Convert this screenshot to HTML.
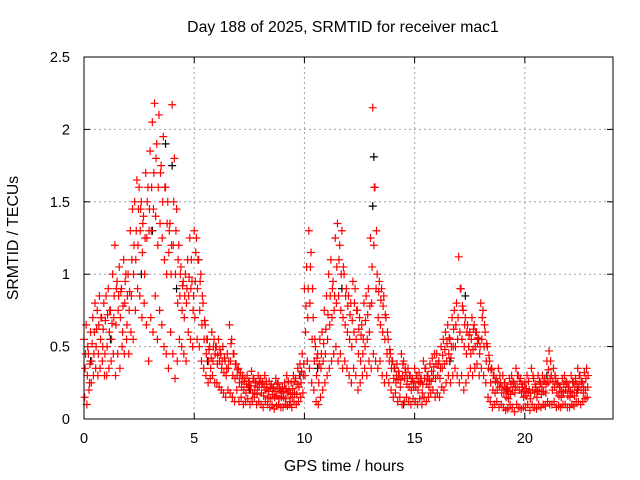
<!DOCTYPE html>
<html><head><meta charset="utf-8"><style>
body{margin:0;background:#fff}
svg{display:block;font-family:"Liberation Sans",sans-serif}
</style></head><body>
<svg id="chart" width="640" height="480" viewBox="0 0 640 480">
<rect width="640" height="480" fill="#fff"/>
<text x="343" y="32" font-size="15.8" text-anchor="middle">Day 188 of 2025, SRMTID for receiver mac1</text>
<text x="344" y="471" font-size="15.8" text-anchor="middle">GPS time / hours</text>
<text transform="translate(18,238) rotate(-90)" font-size="15.8" text-anchor="middle">SRMTID / TECUs</text>
<g id="grid"></g><g id="ticks"></g><g id="black"></g><g id="red"></g>
<rect x="84" y="57" width="529" height="362" fill="none" stroke="#000" stroke-width="1"/>
</svg>
<script>
const xTicks=[0,5,10,15,20];
const yTicks=[0,0.5,1,1.5,2,2.5];
const yTickLabels=["0","0.5","1","1.5","2","2.5"];
const hours=[0,0.1,0.2,0.3,0.4,0.5,0.6,0.7,0.8,0.9,1,1.1,1.2,1.3,1.4,1.5,1.6,1.7,1.8,1.9,2,2.1,2.2,2.3,2.4,2.5,2.6,2.7,2.8,2.9,3,3.1,3.2,3.3,3.4,3.5,3.6,3.7,3.8,3.9,4,4.1,4.2,4.3,4.4,4.5,4.6,4.7,4.8,4.9,5,5.1,5.2,5.3,5.4,5.5,5.6,5.7,5.8,5.9,6,6.1,6.2,6.3,6.4,6.5,6.6,6.7,6.8,6.9,7,7.1,7.2,7.3,7.4,7.5,7.6,7.7,7.8,7.9,8,8.1,8.2,8.3,8.4,8.5,8.6,8.7,8.8,8.9,9,9.1,9.2,9.3,9.4,9.5,9.6,9.7,9.8,9.9,10,10.1,10.2,10.3,10.4,10.5,10.6,10.7,10.8,10.9,11,11.1,11.2,11.3,11.4,11.5,11.6,11.7,11.8,11.9,12,12.1,12.2,12.3,12.4,12.5,12.6,12.7,12.8,12.9,13,13.1,13.2,13.3,13.4,13.5,13.6,13.7,13.8,13.9,14,14.1,14.2,14.3,14.4,14.5,14.6,14.7,14.8,14.9,15,15.1,15.2,15.3,15.4,15.5,15.6,15.7,15.8,15.9,16,16.1,16.2,16.3,16.4,16.5,16.6,16.7,16.8,16.9,17,17.1,17.2,17.3,17.4,17.5,17.6,17.7,17.8,17.9,18,18.1,18.2,18.3,18.4,18.5,18.6,18.7,18.8,18.9,19,19.1,19.2,19.3,19.4,19.5,19.6,19.7,19.8,19.9,20,20.1,20.2,20.3,20.4,20.5,20.6,20.7,20.8,20.9,21,21.1,21.2,21.3,21.4,21.5,21.6,21.7,21.8,21.9,22,22.1,22.2,22.3,22.4,22.5,22.6,22.7,22.8];
const highVals=[.55,.65,.45,.60,.70,.80,.75,.85,.70,.80, .85,.90,.75,1.0,1.2,.95,1.05,.90,1.1,1.0, 1.0,1.3,1.45,1.5,1.65,1.6,1.5,1.4,1.7,1.6, 1.85,2.05,2.18,1.9,2.1,1.75,1.95,1.6,1.5,1.35, 2.17,1.8,1.45,1.2,1.05,.95,1.0,1.1,1.25,.95, 1.3,1.25,1.1,1.0,.80,.65,.55,.50,.60,.55, .50,.55,.45,.50,.40,.45,.65,.55,.45,.38, .35,.32,.30,.28,.30,.26,.33,.28,.25,.30, .28,.25,.30,.22,.26,.24,.22,.28,.25,.20, .22,.25,.30,.20,.25,.30,.28,.35,.38,.45, .90,1.05,1.3,1.15,.70,.50,.45,.55,.60,.75, .85,1.0,1.1,.95,1.25,1.35,1.2,1.3,1.0,.90, .85,.80,.95,.90,.75,.70,.65,.80,.85,.90, 1.25,2.15,1.6,1.0,.95,.90,.85,.70,.55,.45, .40,.35,.38,.30,.45,.40,.32,.35,.30,.28, .35,.30,.32,.28,.40,.35,.30,.38,.42,.45, .45,.40,.50,.55,.60,.65,.55,.70,.75,.80, 1.12,.90,.75,.70,.65,.60,.70,.65,.60,.55, .80,.75,.60,.50,.40,.35,.30,.28,.35,.25, .30,.25,.22,.28,.30,.25,.35,.30,.28,.22, .25,.30,.20,.35,.28,.22,.30,.25,.30,.28, .40,.47,.30,.35,.28,.25,.22,.28,.30,.25, .22,.30,.25,.28,.35,.30,.25,.32,.35];
const upperVals=[.45,.50,.38,.52,.60,.62,.65,.70,.62,.68, .72,.75,.66,.85,.90,.85,.88,.78,.95,.85, .88,1.1,1.2,1.3,1.45,1.45,1.35,1.25,1.5,1.45, 1.6,1.7,1.8,1.6,1.7,1.5,1.6,1.35,1.3,1.2, 1.5,1.3,1.1,1.0,.92,.85,.90,.98,1.1,.85, 1.15,1.1,.95,.85,.68,.55,.48,.42,.50,.50, .44,.48,.40,.42,.35,.40,.52,.45,.38,.34, .30,.28,.26,.24,.26,.23,.28,.25,.22,.26, .24,.22,.26,.19,.22,.21,.19,.24,.21,.18, .19,.21,.26,.17,.21,.26,.24,.30,.33,.38, .78,.90,1.05,.90,.55,.42,.38,.45,.52,.62, .72,.85,.90,.85,1.05,1.1,1.0,1.05,.85,.78, .72,.68,.80,.75,.62,.58,.55,.68,.72,.78, 1.05,1.6,1.3,.88,.82,.78,.72,.60,.48,.40, .35,.30,.33,.27,.38,.35,.28,.30,.26,.25, .30,.26,.28,.24,.35,.30,.27,.33,.36,.38, .38,.35,.44,.48,.52,.56,.50,.62,.65,.70, .90,.78,.65,.60,.58,.55,.62,.60,.56,.50, .70,.65,.52,.44,.34,.30,.26,.25,.30,.22, .25,.21,.19,.24,.26,.22,.30,.26,.24,.19, .21,.26,.18,.30,.24,.19,.26,.22,.26,.24, .34,.40,.26,.30,.24,.22,.19,.24,.26,.22, .19,.26,.22,.24,.30,.26,.22,.28,.30];
const midVals=[.35,.30,.25,.40,.45,.50,.45,.55,.50,.45, .50,.60,.55,.70,.65,.75,.70,.60,.80,.65, .75,.85,1.0,1.1,1.2,1.3,1.15,1.0,1.25,1.3, 1.3,1.45,1.4,1.2,1.35,1.25,1.1,1.0,1.15,1.0, 1.2,1.0,.80,.85,.75,.70,.80,.85,.90,.75, .95,.90,.75,.65,.55,.45,.40,.35,.40,.45, .38,.40,.35,.32,.30,.35,.40,.30,.28,.30, .25,.22,.20,.18,.22,.20,.18,.20,.17,.22, .18,.16,.20,.15,.14,.17,.15,.16,.14,.15, .15,.14,.18,.12,.15,.18,.17,.22,.25,.30, .60,.70,.80,.55,.40,.30,.25,.35,.40,.45, .55,.65,.70,.75,.80,.85,.75,.70,.65,.60, .55,.50,.60,.55,.45,.40,.45,.50,.55,.60, .80,1.2,.90,.70,.65,.60,.55,.45,.40,.35, .28,.25,.27,.22,.30,.28,.24,.22,.20,.22, .22,.20,.25,.18,.28,.24,.22,.26,.30,.28, .30,.28,.35,.38,.40,.45,.42,.50,.50,.55, .60,.55,.50,.45,.50,.45,.48,.50,.52,.45, .55,.50,.40,.35,.25,.20,.18,.20,.22,.18, .18,.15,.14,.17,.20,.18,.22,.20,.18,.15, .16,.18,.14,.20,.18,.15,.20,.17,.19,.18, .25,.28,.20,.22,.18,.16,.15,.18,.20,.16, .15,.18,.16,.18,.22,.20,.18,.20,.22];
const lowVals=[.15,.10,.20,.25,.30,.35,.30,.35,.40,.30, .30,.35,.40,.45,.30,.45,.35,.50,.45,.55, .45,.60,.55,.75,.90,.85,.70,.80,.65,.40, .70,.60,.85,.55,.75,.65,.50,.45,.35,.60, .45,.28,.40,.55,.50,.45,.40,.60,.55,.50, .70,.55,.50,.40,.35,.30,.25,.28,.30,.25, .25,.22,.20,.18,.15,.20,.18,.15,.12,.20, .12,.15,.10,.12,.14,.10,.12,.15,.10,.12, .10,.08,.12,.10,.08,.10,.07,.09,.10,.08, .08,.10,.09,.10,.08,.12,.10,.12,.15,.18, .30,.40,.35,.25,.20,.12,.10,.15,.20,.25, .30,.35,.40,.45,.50,.40,.45,.35,.40,.35, .30,.25,.35,.30,.20,.25,.30,.35,.30,.40, .35,.45,.40,.35,.40,.30,.25,.30,.25,.20, .15,.18,.12,.15,.10,.12,.15,.12,.10,.14, .12,.10,.14,.10,.15,.12,.15,.18,.20,.15, .18,.15,.22,.20,.25,.30,.25,.30,.35,.30, .25,.30,.20,.25,.30,.35,.30,.35,.38,.30, .35,.30,.25,.15,.12,.08,.10,.12,.08,.10, .08,.06,.07,.10,.08,.05,.10,.08,.07,.08, .08,.10,.06,.10,.08,.07,.10,.08,.10,.09, .12,.10,.10,.12,.08,.09,.08,.10,.10,.08, .08,.10,.09,.12,.12,.10,.12,.14,.15];
const blackHours=[0.3,1.2,2.6,3.1,3.7,4.0,4.2,5.6,7.5,9.8,10.6,11.7,13.1,13.15,14.5,16.6,17.3,17.9,19.2,21.0,22.4];
const blackVals=[0.4,0.55,1.0,1.3,1.9,1.75,0.9,0.4,0.2,0.3,0.35,0.9,1.47,1.81,0.1,0.4,0.85,0.55,0.2,0.3,0.2];
const X0=84,X1=613,Y0=419,Y1=57,XMAX=24,YMAX=2.5;
const xs=v=>X0+(X1-X0)*v/XMAX, ys=v=>Y0-(Y0-Y1)*v/YMAX;
const NS="http://www.w3.org/2000/svg";
function mk(tag,attrs,parent){const e=document.createElementNS(NS,tag);for(const k in attrs)e.setAttribute(k,attrs[k]);parent.appendChild(e);return e;}
const grid=document.getElementById('grid'),tk=document.getElementById('ticks');
xTicks.forEach(t=>{const x=xs(t);
 if(t>0){const g=mk('line',{x1:x,x2:x,y1:Y1,y2:Y0,stroke:'#a0a0a0','stroke-dasharray':'2,3'},grid);
 
 }
 const txt=mk('text',{x:x,y:443,'font-size':14.5,'text-anchor':'middle'},tk);txt.textContent=t;
 
 
 mk('line',{x1:x,x2:x,y1:Y0,y2:Y0-6,stroke:'#000'},tk);mk('line',{x1:x,x2:x,y1:Y1,y2:Y1+6,stroke:'#000'},tk);});
yTicks.forEach((t,i)=>{const y=ys(t);
 if(t>0&&t<YMAX){const g=mk('line',{x1:X0,x2:X1,y1:y,y2:y,stroke:'#a0a0a0','stroke-dasharray':'2,3'},grid);
 
 }
 const txt=mk('text',{x:70,y:y+5,'font-size':14.5,'text-anchor':'end'},tk);txt.textContent=yTickLabels[i];
 
 
 mk('line',{x1:X0,x2:X0+6,y1:y,y2:y,stroke:'#000'},tk);mk('line',{x1:X1,x2:X1-6,y1:y,y2:y,stroke:'#000'},tk);});
function cross(parent,t,v,color,name){const x=xs(t),y=ys(v);
 const p=mk('path',{d:`M${x-4},${y}H${x+4}M${x},${y-4}V${y+4}`,stroke:color,'stroke-width':1.2,fill:'none'},parent);
 
 }
const bl=document.getElementById('black'),rd=document.getElementById('red');
blackHours.forEach((h,i)=>cross(bl,h,blackVals[i],'#000','black-point'));
hours.forEach((h,i)=>{
 cross(rd,h,highVals[i],'#f00','red-point-high');
 cross(rd,h+0.07,upperVals[i],'#f00','red-point-upper');
 cross(rd,h+0.05,midVals[i],'#f00','red-point-mid');
 cross(rd,h+0.03,lowVals[i],'#f00','red-point-low');
});
</script>
</body></html>
